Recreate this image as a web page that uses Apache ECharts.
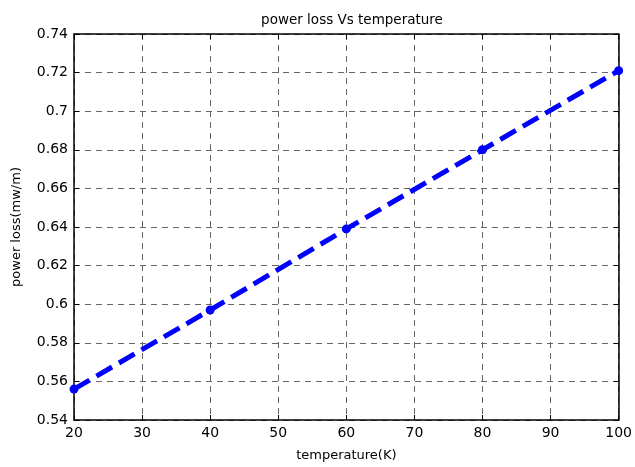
<!DOCTYPE html>
<html>
<head>
<meta charset="utf-8">
<script src="https://cdn.jsdelivr.net/npm/echarts@6/dist/echarts.min.js"></script>
<style>
html, body { margin: 0; padding: 0; background: #fff; }
#main { width: 635px; height: 467px; }
</style>
</head>
<body>
<div id="main"></div>
<script>
// temperature (K) vs power loss (mw/m)
const temperature = [20, 40, 60, 80, 100];
const powerLoss = [0.556, 0.597, 0.639, 0.680, 0.721];

const font = 'DejaVu Sans';
const gridLine = { show: true, lineStyle: { color: '#666', type: [6, 5], width: 1 } };
const boxLine = { show: true, lineStyle: { color: '#000', width: 1.5 } };
const inTick = { show: true, inside: true, length: 5, lineStyle: { color: '#000' } };

const chart = echarts.init(document.getElementById('main'));
chart.setOption({
    animation: false,
    title: {
        text: 'power loss Vs temperature',
        left: 347,
        textAlign: 'center',
        top: 8,
        textStyle: { fontFamily: font, fontWeight: 'normal', fontSize: 13.5, color: '#000' }
    },
    grid: { left: 74, right: 13, top: 34, bottom: 43 },
    xAxis: [
        {
            type: 'value', min: 20, max: 100, interval: 10,
            name: 'temperature(K)', nameLocation: 'middle', nameGap: 29,
            nameTextStyle: { fontFamily: font, fontSize: 13, color: '#000' },
            axisLine: boxLine, axisTick: inTick, splitLine: gridLine,
            axisLabel: { fontFamily: font, fontSize: 14, color: '#000', margin: 6 }
        },
        {
            type: 'value', min: 20, max: 100, interval: 10, position: 'top',
            axisLine: boxLine, axisTick: inTick, splitLine: { show: false },
            axisLabel: { show: false }
        }
    ],
    yAxis: [
        {
            type: 'value', min: 0.54, max: 0.74, interval: 0.02,
            name: 'power loss(mw/m)', nameLocation: 'middle', nameGap: 51,
            nameTextStyle: { fontFamily: font, fontSize: 13, color: '#000' },
            axisLine: boxLine, axisTick: inTick, splitLine: gridLine,
            axisLabel: { fontFamily: font, fontSize: 14, color: '#000', margin: 6 }
        },
        {
            type: 'value', min: 0.54, max: 0.74, interval: 0.02, position: 'right',
            axisLine: boxLine, axisTick: inTick, splitLine: { show: false },
            axisLabel: { show: false }
        }
    ],
    series: [
        {
            type: 'line',
            data: temperature.map((t, i) => [t, powerLoss[i]]),
            symbol: 'circle',
            symbolSize: 9,
            clip: false,
            itemStyle: { color: '#0000ff' },
            lineStyle: { color: '#0000ff', width: 5, type: [18, 8] }
        }
    ]
});
</script>
</body>
</html>
